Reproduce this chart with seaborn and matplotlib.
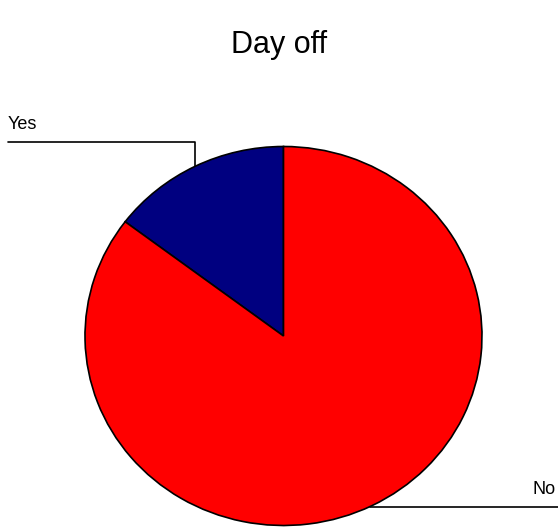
"""
Pie chart "Day off" : Yes / No
"""
import numpy as np
import matplotlib
matplotlib.use("Agg")
import matplotlib.pyplot as plt
import seaborn as sns

labels = ["Yes", "No"]
values = [14.7, 85.3]
colors = ["#000080", "#FF0000"]

sns.set_style("white")
plt.rcParams['font.family'] = ['Liberation Sans', 'DejaVu Sans']
plt.rcParams['text.color'] = 'black'

W, H = 558, 527
fig = plt.figure(figsize=(W / 100, H / 100), dpi=100)
ax = fig.add_axes([0, 0, 1, 1])

wedges, _ = ax.pie(values, colors=colors, startangle=90, counterclock=True,
                   radius=1, wedgeprops=dict(edgecolor='black', linewidth=1.2))

# pixel geometry of the (slightly flattened) pie; pie() resets limits
cx, cy, rx, ry = 283.5, 336, 198.5, 189.5
ax.set_xlim(-cx / rx, (W - cx) / rx)
ax.set_ylim(-(H - cy) / ry, cy / ry)
ax.set_aspect('auto')
ax.axis('off')

# Yes : leader up from the wedge edge then left
yes = wedges[0]
mid = np.deg2rad((yes.theta1 + yes.theta2) / 2)
x0, y0 = np.cos(mid), np.sin(mid)
ytop = (cy - 142.5) / ry
xleft = -(cx - 8) / rx
ax.plot([x0, x0, xleft], [y0, ytop, ytop], color='black', lw=1.2,
        clip_on=False)
ax.text(xleft, ytop + 9 / ry, labels[0], fontsize=13, ha='left',
        va='bottom')

# No : horizontal leader to the right edge
ylow = -(506.5 - cy) / ry
xs = np.sqrt(1 - ylow ** 2)
ax.plot([xs, (W - cx) / rx], [ylow, ylow], color='black', lw=1.2,
        clip_on=False)
ax.text((W - cx - 2) / rx, ylow + 9 / ry, labels[1], fontsize=13, ha='right',
        va='bottom')

fig.text(279 / W, 1 - 45 / H, "Day off", fontsize=22, ha='center',
         va='center')

plt.savefig("out.png", dpi=100)
plt.close()
